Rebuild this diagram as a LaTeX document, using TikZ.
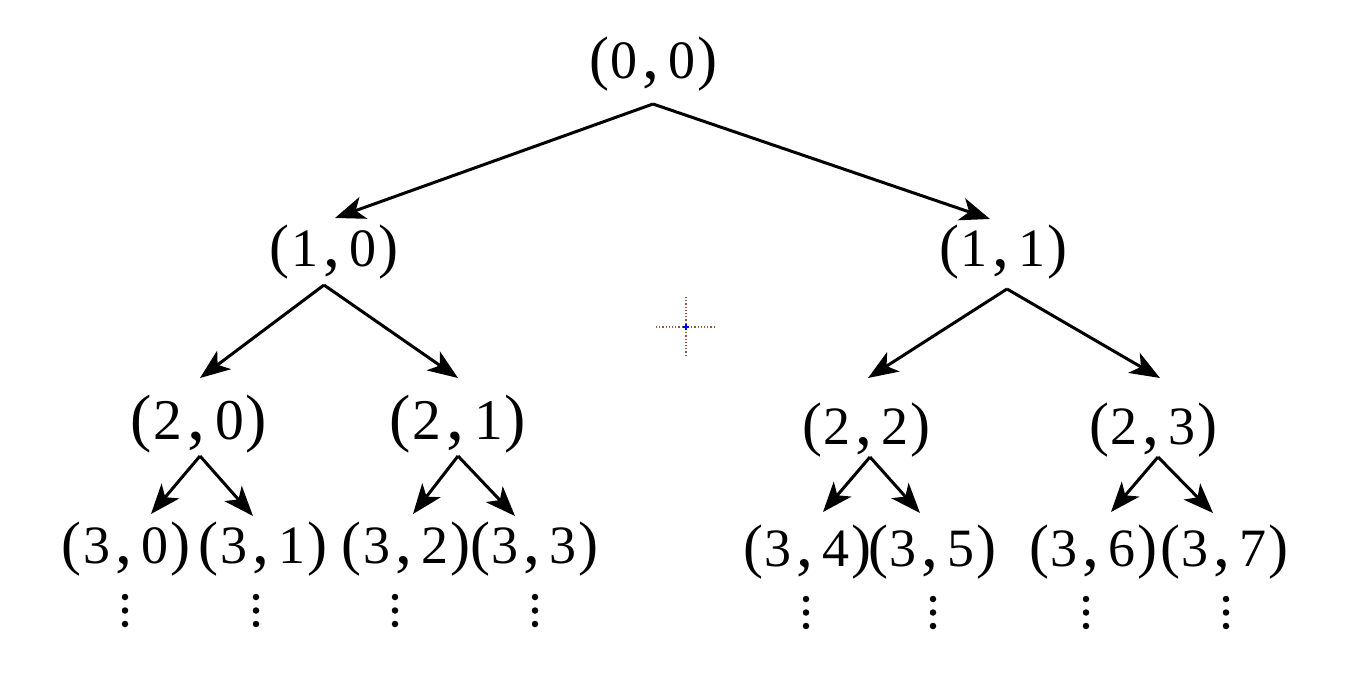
\documentclass[tikz,border=0pt]{standalone}
\usepackage{fontspec}
\usepackage{graphicx}
\setmainfont{Liberation Serif}
\usetikzlibrary{arrows.meta}
\newcommand\dgt[1]{\scalebox{0.9}{#1}}
\newcommand\pairlbl[2]{(\kern0.03em\dgt{#1}\kern0.075em\scalebox{1.13}{,}\kern0.15em\dgt{#2}\kern0.03em)}
\definecolor{xhair}{RGB}{140,90,70}
\definecolor{xblue}{RGB}{0,0,255}
\begin{document}
\begin{tikzpicture}[x=1pt,y=-1pt,
  lbl/.style={inner sep=0pt, anchor=base, font=\fontsize{60}{60}\selectfont},
  lblb/.style={lbl, font=\fontsize{64}{64}\selectfont},
  arr/.style={line width=3pt, -{Stealth[length=30pt,width=23pt,inset=8pt]}},
  dotm/.style={fill=black, circle, inner sep=0pt, minimum size=6.5pt}]
\useasboundingbox (0,0) rectangle (1349,679);
% labels
\node[lbl] (n00) at (653,79) {\pairlbl{0}{0}};
\node[lbl] (n10) at (334,266) {\pairlbl{1}{0}};
\node[lbl] (n11) at (1003,266) {\pairlbl{1}{1}};
\node[lblb] (n20) at (199,439) {\pairlbl{2}{0}};
\node[lblb] (n21) at (458,439) {\pairlbl{2}{1}};
\node[lbl] (n22) at (866,444) {\pairlbl{2}{2}};
\node[lbl] (n23) at (1153,444) {\pairlbl{2}{3}};
\node[lbl] (n30) at (126,563) {\pairlbl{3}{0}};
\node[lbl] (n31) at (263,563) {\pairlbl{3}{1}};
\node[lbl] (n32) at (406,563) {\pairlbl{3}{2}};
\node[lbl] (n33) at (534,563) {\pairlbl{3}{3}};
\node[lbl] (n34) at (807,566) {\pairlbl{3}{4}};
\node[lbl] (n35) at (932,566) {\pairlbl{3}{5}};
\node[lbl] (n36) at (1093,566) {\pairlbl{3}{6}};
\node[lbl] (n37) at (1224,566) {\pairlbl{3}{7}};
% connector end points
\coordinate (s00) at (653,104);
\coordinate (t10) at (335,218);
\coordinate (t11) at (990,219);
\coordinate (s10) at (324,285);
\coordinate (s11) at (1007,289);
\coordinate (t20) at (200,378);
\coordinate (t21) at (458,378);
\coordinate (t22) at (868,378);
\coordinate (t23) at (1160,378);
\coordinate (s20) at (200,456);
\coordinate (s21) at (458,456);
\coordinate (s22) at (870,457);
\coordinate (s23) at (1158,457);
\coordinate (t30) at (151,514);
\coordinate (t31) at (253,516);
\coordinate (t32) at (413,514);
\coordinate (t33) at (515,516);
\coordinate (t34) at (823,512);
\coordinate (t35) at (920,513);
\coordinate (t36) at (1111,512);
\coordinate (t37) at (1213,513);
% connectors
\draw[arr] (s00) -- (t10);
\draw[arr] (s00) -- (t11);
\draw[arr] (s10) -- (t20);
\draw[arr] (s10) -- (t21);
\draw[arr] (s11) -- (t22);
\draw[arr] (s11) -- (t23);
\draw[arr] (s20) -- (t30);
\draw[arr] (s20) -- (t31);
\draw[arr] (s21) -- (t32);
\draw[arr] (s21) -- (t33);
\draw[arr] (s22) -- (t34);
\draw[arr] (s22) -- (t35);
\draw[arr] (s23) -- (t36);
\draw[arr] (s23) -- (t37);
% vertical dots
\foreach \nm/\x/\y in {a/125/597, b/256/597, c/395/597, d/535/597, e/806/599, f/933/599, g/1086/599, h/1226/599}{
  \node[dotm] (d\nm1) at (\x,\y) {};
  \node[dotm] (d\nm2) at (\x,\y+13.5) {};
  \node[dotm] (d\nm3) at (\x,\y+27) {};
}
% origin crosshair
\draw[xhair, dotted, line width=1.2pt] (656,327) -- (715,327);
\draw[xhair, dotted, line width=1.2pt] (686,297) -- (686,355);
\draw[xblue, line width=1.5pt] (683,327) -- (689,327) (686,324) -- (686,330);
\end{tikzpicture}
\end{document}
